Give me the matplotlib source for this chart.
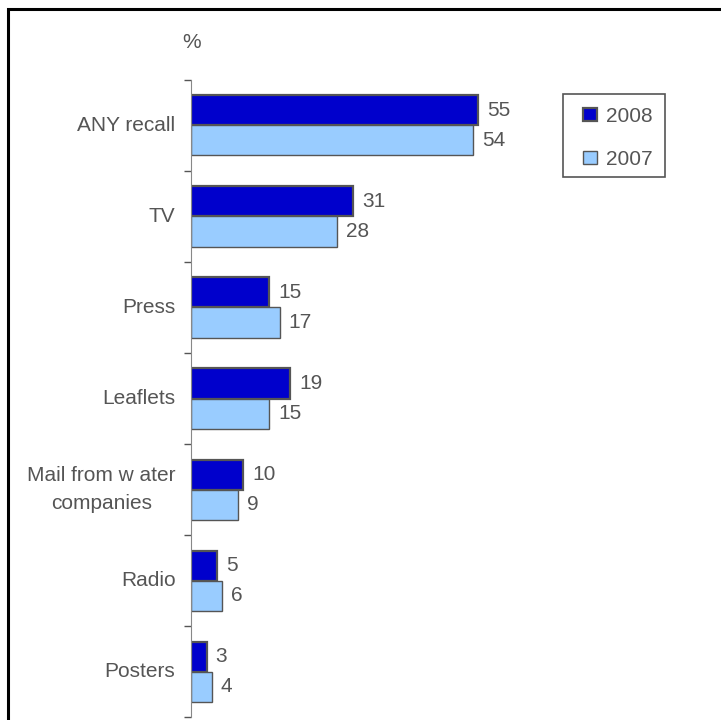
import matplotlib.pyplot as plt
import numpy as np
from matplotlib.patches import Rectangle

categories = ['ANY recall', 'TV', 'Press', 'Leaflets',
              'Mail from w ater\ncompanies', 'Radio', 'Posters']
recall_2008 = [55, 31, 15, 19, 10, 5, 3]
recall_2007 = [54, 28, 17, 15, 9, 6, 4]

plt.rcParams['font.family'] = ['Liberation Sans', 'DejaVu Sans']
text_col = '#555555'
fs = 15

fig = plt.figure(figsize=(7.21, 7.2), dpi=100)
ax = fig.add_axes([0.265, 0.004, 0.724, 0.885])

# outer frame of the chart (only top and left edges fall inside the canvas)
fig.patches.append(Rectangle((8 / 721, -0.1), 1.2, 1 - 9 / 720 + 0.1,
                             transform=fig.transFigure, fill=False,
                             edgecolor='black', linewidth=2.2))

y = np.arange(len(categories))
h = 0.33
bars08 = ax.barh(y - h / 2, recall_2008, height=h, color='#0000CC',
                 edgecolor='#555555', linewidth=1.6, label='2008')
bars07 = ax.barh(y + h / 2, recall_2007, height=h, color='#99CCFF',
                 edgecolor='#555555', linewidth=1.0, label='2007')

for bars, vals in ((bars08, recall_2008), (bars07, recall_2007)):
    for b, v in zip(bars, vals):
        ax.text(v + 1.7, b.get_y() + b.get_height() / 2, str(v),
                va='center', ha='left', fontsize=fs, color=text_col)

ax.set_xlim(0, 100)
ax.set_ylim(len(categories) - 0.5, -0.5)

# category labels centred on each group, ticks on group boundaries
ax.set_yticks(np.arange(len(categories) + 1) - 0.5)
ax.set_yticklabels([])
ax.tick_params(axis='y', length=5, color='#555555', width=1)
for i, c in enumerate(categories):
    ax.text(-0.03, i, c, transform=ax.get_yaxis_transform(),
            ha='right', va='center', fontsize=fs, color=text_col,
            multialignment='center', linespacing=1.65)

ax.set_xticks([])
for s in ('top', 'right', 'bottom'):
    ax.spines[s].set_visible(False)
ax.spines['left'].set_color('#888888')

fig.text(192 / 721, 1 - 42 / 720, '%', fontsize=fs, color=text_col,
         ha='center', va='center')

# legend entries without frame, box drawn separately around them
ax.legend(loc='upper left', bbox_to_anchor=(0.751, 0.958),
          borderaxespad=0, borderpad=0, frameon=False, fontsize=fs,
          handlelength=0.65, handleheight=0.6, handletextpad=0.45,
          labelspacing=1.15, labelcolor=text_col)
ax.add_patch(Rectangle((0.713, 0.848), 0.195, 0.130, transform=ax.transAxes,
                       fill=False, edgecolor='#555555', linewidth=1.2,
                       clip_on=False))

fig.savefig('out.png', dpi=100)
